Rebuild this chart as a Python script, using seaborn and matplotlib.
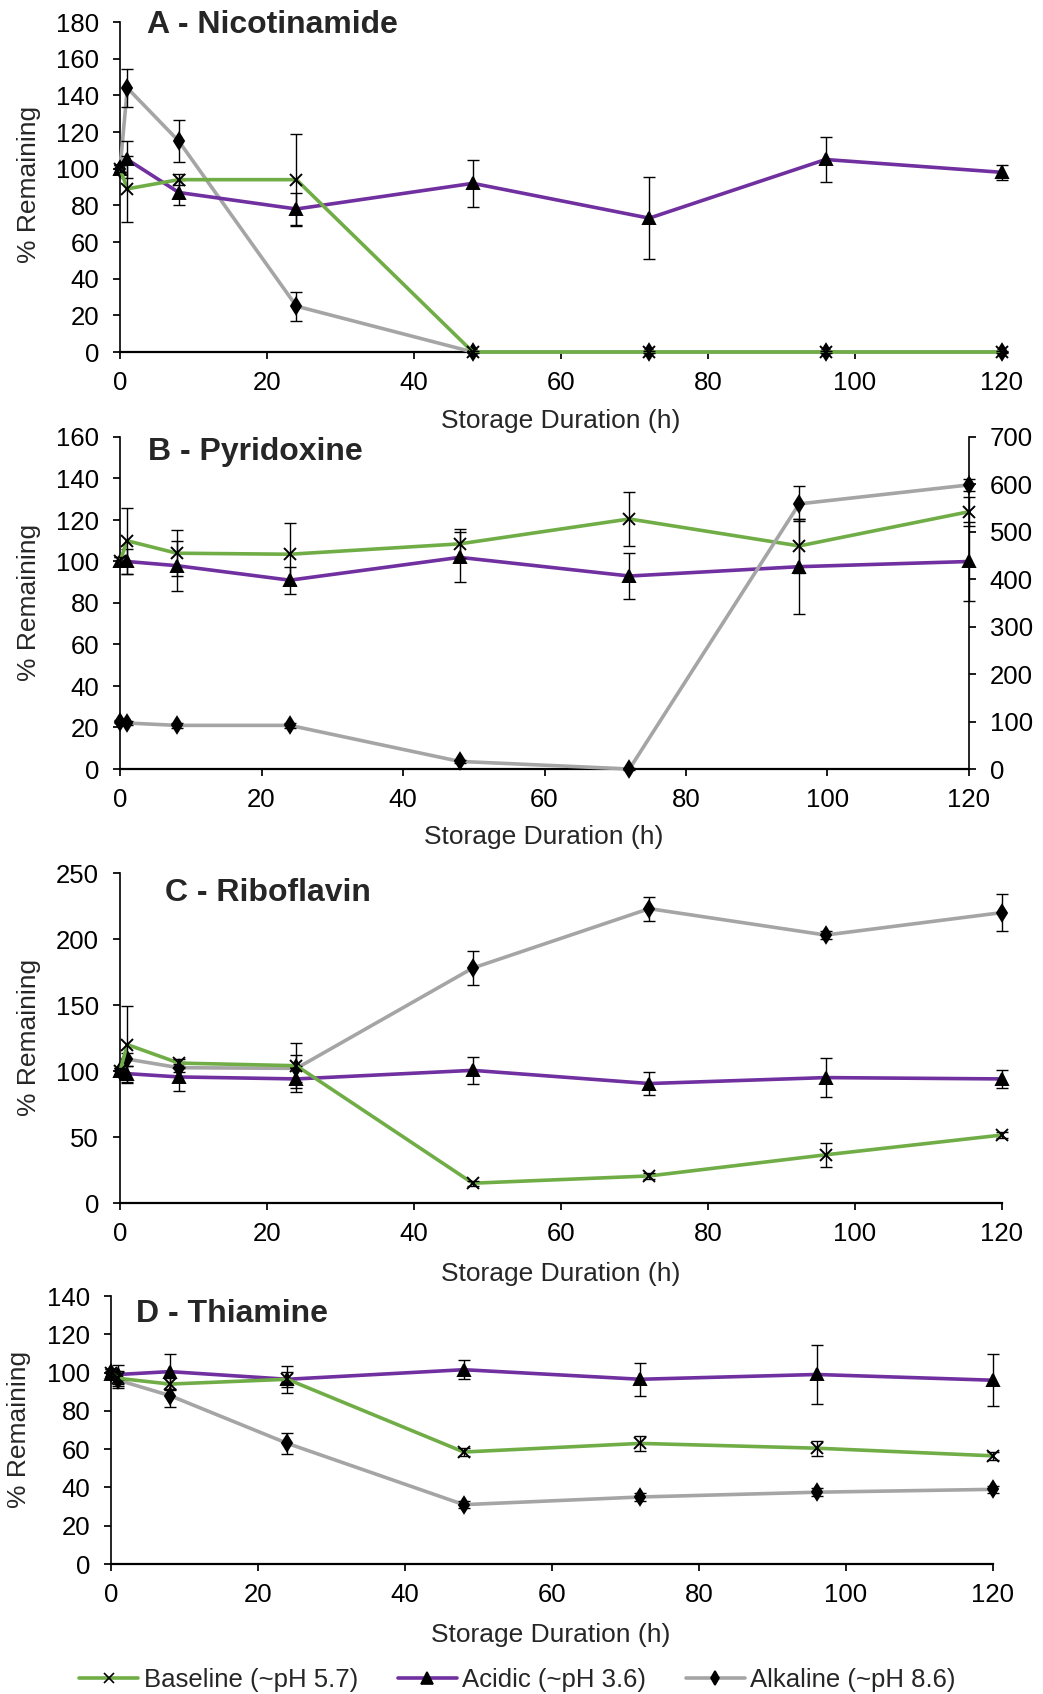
import matplotlib
matplotlib.use("Agg")
import matplotlib.pyplot as plt
from matplotlib.lines import Line2D
import seaborn as sns
import pandas as pd

# Sampling times (h)
time_h = [0, 1, 8, 24, 48, 72, 96, 120]

# A - Nicotinamide
nic_base = [100, 89, 94, 94, 0, 0, 0, 0]
nic_base_err = [2, 18, 3, 25, 0.5, 0.5, 0.5, 0.5]
nic_acid = [100, 105, 87, 78, 92, 73, 105, 98]
nic_acid_err = [2, 10, 7, 8.5, 12.7, 22.3, 12.3, 4]
nic_alk = [100, 144, 115, 25, 0, 0, 0, 0]
nic_alk_err = [2, 10.5, 11.5, 8, 0, 0, 0, 0]

# B - Pyridoxine (alkaline series on the secondary axis)
pyr_base = [100, 110, 104, 103.5, 108.5, 120.5, 107.5, 124]
pyr_base_err = [2, 16, 11, 15, 7, 13, 13, 7]
pyr_acid = [100, 100, 98, 91, 102, 93, 97.5, 100]
pyr_acid_err = [2, 6, 12, 6.5, 12, 11, 23, 19]
pyr_alk = [100, 97, 92, 92, 16, 0, 559, 599]
pyr_alk_err = [3, 5, 6, 6, 4, 2, 37, 12]

# C - Riboflavin
rib_base = [100, 120, 106, 104, 15, 20.5, 36.5, 51.5]
rib_base_err = [2, 29, 3, 17, 2, 2, 9, 2]
rib_acid = [100, 98, 95.5, 94, 100.5, 90.5, 95, 94]
rib_acid_err = [2, 6, 11, 10, 10, 9, 15, 7]
rib_alk = [100, 109, 102.5, 102, 178, 223, 203, 220]
rib_alk_err = [2, 5, 3, 10, 13, 9, 3, 14]

# D - Thiamine
thi_base = [100, 97, 94, 96.5, 58.5, 63, 60.5, 56.5]
thi_base_err = [2, 4, 3, 4, 2, 4, 4, 2]
thi_acid = [99, 99, 100.5, 96.5, 101.5, 96.5, 99, 96]
thi_acid_err = [2, 5, 9, 7, 5, 8.5, 15.5, 13.5]
thi_alk = [100, 96, 88, 63, 31, 35, 37.5, 39]
thi_alk_err = [2, 4, 6, 5.5, 2, 2, 2, 2]

titles = ["A - Nicotinamide", "B - Pyridoxine", "C - Riboflavin", "D - Thiamine"]
conditions = ["Baseline (~pH 5.7)", "Acidic (~pH 3.6)", "Alkaline (~pH 8.6)"]
colors = ["#70AD47", "#7030A0", "#A5A5A5"]
markers = ["x", "^", "d"]
msizes = [8, 9, 8]

TICK_FS = 18.5
LABEL_FS = 19
TITLE_FS = 23

sns.set_theme(style="ticks")
plt.rcParams["font.family"] = ["Liberation Sans", "DejaVu Sans"]
plt.rcParams["font.size"] = TICK_FS
plt.rcParams["axes.linewidth"] = 1.2
plt.rcParams["xtick.major.size"] = 5
plt.rcParams["ytick.major.size"] = 5
plt.rcParams["xtick.labelsize"] = TICK_FS
plt.rcParams["ytick.labelsize"] = TICK_FS
plt.rcParams["xtick.color"] = "black"
plt.rcParams["ytick.color"] = "black"

W, H = 1043, 1694
fig = plt.figure(figsize=(W / 100, H / 100), dpi=100)


def rect(left, right, top, bottom):
    return [left / W, 1 - bottom / H, (right - left) / W, (bottom - top) / H]


def series(ax, y, err, idx, z):
    df = pd.DataFrame({"t": time_h, "v": y})
    sns.lineplot(data=df, x="t", y="v", ax=ax, color=colors[idx], lw=2.6,
                 marker=markers[idx], markersize=msizes[idx], mfc="black",
                 mec="black", mew=1.4, zorder=z, clip_on=False, legend=False)
    ax.errorbar(time_h, y, yerr=err, fmt="none", ecolor="black", elinewidth=1.0,
                capsize=4, capthick=1.0, zorder=z + 0.5, clip_on=False)


def style_axis(ax, ymax, ystep):
    ax.set_xlim(0, 120)
    ax.set_ylim(0, ymax)
    ax.set_xticks(range(0, 121, 20))
    ax.set_yticks(range(0, ymax + 1, ystep))
    ax.set_xlabel("")
    ax.set_ylabel("")
    ax.spines["top"].set_visible(False)
    ax.spines["right"].set_visible(False)
    for s in ("left", "bottom"):
        ax.spines[s].set_color("black")
    ax.spines["bottom"].set_linewidth(1.6)
    ax.tick_params(axis="y", direction="out", colors="black", pad=10)
    ax.tick_params(axis="x", direction="out", colors="black", pad=9)


panels = [
    (rect(120, 1002, 22, 352), 180, 20,
     [(nic_base, nic_base_err), (nic_acid, nic_acid_err), (nic_alk, nic_alk_err)]),
    (rect(120, 969, 437, 769), 160, 20,
     [(pyr_base, pyr_base_err), (pyr_acid, pyr_acid_err), None]),
    (rect(120, 1002, 873, 1203), 250, 50,
     [(rib_base, rib_base_err), (rib_acid, rib_acid_err), (rib_alk, rib_alk_err)]),
    (rect(111, 993, 1296, 1564), 140, 20,
     [(thi_base, thi_base_err), (thi_acid, thi_acid_err), (thi_alk, thi_alk_err)]),
]

axes = []
for r, ymax, ystep, data in panels:
    ax = fig.add_axes(r)
    zorders = [6, 5, 4]
    for idx in (2, 1, 0):
        if data[idx] is None:
            continue
        y, e = data[idx]
        series(ax, y, e, idx, zorders[idx])
    style_axis(ax, ymax, ystep)
    axes.append(ax)

# Secondary axis for the alkaline pyridoxine series
axB = axes[1]
axB2 = axB.twinx()
series(axB2, pyr_alk, pyr_alk_err, 2, 4)
axB2.set_ylim(0, 700)
axB2.set_yticks(range(0, 701, 100))
axB2.set_ylabel("")
axB2.set_xlim(0, 120)
for s in ("top", "left", "bottom"):
    axB2.spines[s].set_visible(False)
axB2.spines["right"].set_color("black")
axB2.tick_params(axis="y", direction="out", colors="black", pad=10)

# Panel titles
title_pos = [(147, 25), (148, 452), (165, 893), (136, 1314)]
for t, (x, y) in zip(titles, title_pos):
    fig.text(x / W, 1 - y / H, t, fontsize=TITLE_FS, fontweight="bold", ha="left", va="center")

# Axis labels
ylab_pos = [(29, 184), (29, 602), (29, 1037), (19.5, 1429)]
for x, y in ylab_pos:
    fig.text(x / W, 1 - y / H, "% Remaining", fontsize=LABEL_FS, rotation=90, ha="center", va="center")
xlab_pos = [(561, 421), (544, 837), (561, 1274), (551, 1635)]
for x, y in xlab_pos:
    fig.text(x / W, 1 - y / H, "Storage Duration (h)", fontsize=LABEL_FS, ha="center", va="center")

# Shared legend
handles = [Line2D([0], [0], color=c, lw=2.6, marker=m, markersize=ms - 1, mfc="black", mec="black", mew=1.2)
           for c, m, ms in zip(colors, markers, msizes)]
fig.legend(handles, conditions, loc="center", bbox_to_anchor=(0.496, 1 - 1680 / H), ncol=3,
           frameon=False, fontsize=18.5, handlelength=2.3, handletextpad=0.2, columnspacing=1.55)

fig.savefig("out.png", dpi=100)
